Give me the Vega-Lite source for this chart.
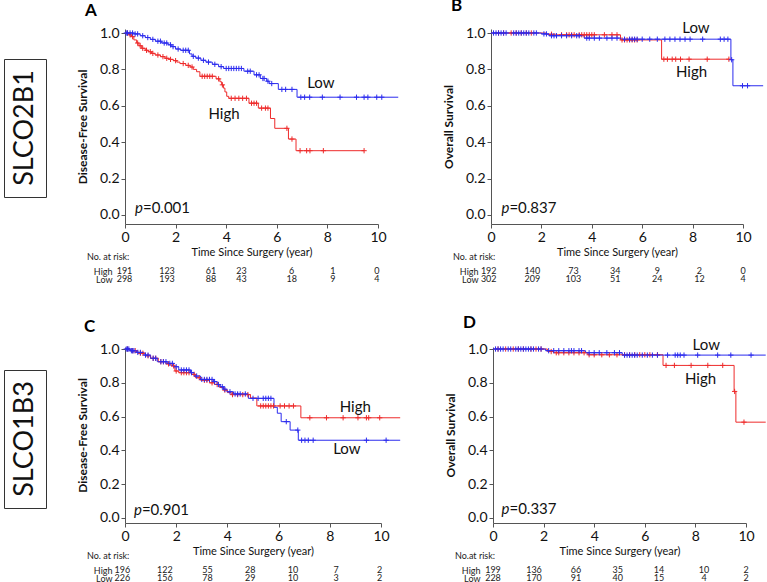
{
"$schema": "https://vega.github.io/schema/vega-lite/v6.json",
"padding": {"left": 3, "top": -3, "right": 0, "bottom": 0},
"config": {
  "view": {"stroke": null},
  "font": "Lato",
  "axis": {"domainColor": "#555", "tickColor": "#555", "tickSize": 4, "labelFontSize": 14, "labelColor": "#111", "titleFontSize": 11, "titleColor": "#111", "labelPadding": 2, "grid": false, "labelFlush": false},
  "axisX": {"titleFontWeight": "normal", "titlePadding": 2},
  "axisY": {"titleFontWeight": "bold", "titleFontSize": 12, "titlePadding": 10},
  "title": {"color": "#000"}
},
"datasets": {
  "curves": [
    {"p":"A","g":"High","t":0,"s":1},{"p":"A","g":"High","t":0.15,"s":0.99},{"p":"A","g":"High","t":0.26,"s":0.98},{"p":"A","g":"High","t":0.35,"s":0.962},{"p":"A","g":"High","t":0.46,"s":0.945},{"p":"A","g":"High","t":0.55,"s":0.93},{"p":"A","g":"High","t":0.66,"s":0.916},{"p":"A","g":"High","t":0.8,"s":0.905},{"p":"A","g":"High","t":0.92,"s":0.897},{"p":"A","g":"High","t":1.05,"s":0.888},{"p":"A","g":"High","t":1.19,"s":0.879},{"p":"A","g":"High","t":1.4,"s":0.87},{"p":"A","g":"High","t":1.58,"s":0.861},{"p":"A","g":"High","t":1.75,"s":0.855},{"p":"A","g":"High","t":1.91,"s":0.848},{"p":"A","g":"High","t":2.05,"s":0.84},{"p":"A","g":"High","t":2.17,"s":0.832},{"p":"A","g":"High","t":2.4,"s":0.822},{"p":"A","g":"High","t":2.57,"s":0.813},{"p":"A","g":"High","t":2.7,"s":0.8},{"p":"A","g":"High","t":2.83,"s":0.787},{"p":"A","g":"High","t":2.96,"s":0.762},{"p":"A","g":"High","t":3.6,"s":0.748},{"p":"A","g":"High","t":3.75,"s":0.732},{"p":"A","g":"High","t":3.82,"s":0.715},{"p":"A","g":"High","t":3.89,"s":0.697},{"p":"A","g":"High","t":3.95,"s":0.676},{"p":"A","g":"High","t":4.02,"s":0.652},{"p":"A","g":"High","t":4.1,"s":0.641},{"p":"A","g":"High","t":4.9,"s":0.614},{"p":"A","g":"High","t":5.27,"s":0.587},{"p":"A","g":"High","t":5.75,"s":0.53},{"p":"A","g":"High","t":5.92,"s":0.476},{"p":"A","g":"High","t":6.46,"s":0.417},{"p":"A","g":"High","t":6.76,"s":0.353},{"p":"A","g":"High","t":9.45,"s":0.353},
    {"p":"A","g":"Low","t":0,"s":1},{"p":"A","g":"Low","t":0.35,"s":0.995},{"p":"A","g":"Low","t":0.6,"s":0.985},{"p":"A","g":"Low","t":0.8,"s":0.975},{"p":"A","g":"Low","t":1.0,"s":0.965},{"p":"A","g":"Low","t":1.2,"s":0.955},{"p":"A","g":"Low","t":1.45,"s":0.945},{"p":"A","g":"Low","t":1.7,"s":0.935},{"p":"A","g":"Low","t":1.85,"s":0.925},{"p":"A","g":"Low","t":2.0,"s":0.912},{"p":"A","g":"Low","t":2.2,"s":0.905},{"p":"A","g":"Low","t":2.55,"s":0.885},{"p":"A","g":"Low","t":2.65,"s":0.872},{"p":"A","g":"Low","t":2.8,"s":0.862},{"p":"A","g":"Low","t":3.0,"s":0.85},{"p":"A","g":"Low","t":3.2,"s":0.84},{"p":"A","g":"Low","t":3.45,"s":0.828},{"p":"A","g":"Low","t":3.7,"s":0.815},{"p":"A","g":"Low","t":3.9,"s":0.805},{"p":"A","g":"Low","t":4.7,"s":0.79},{"p":"A","g":"Low","t":5.1,"s":0.77},{"p":"A","g":"Low","t":5.35,"s":0.75},{"p":"A","g":"Low","t":5.6,"s":0.735},{"p":"A","g":"Low","t":5.7,"s":0.722},{"p":"A","g":"Low","t":6.06,"s":0.69},{"p":"A","g":"Low","t":6.8,"s":0.647},{"p":"A","g":"Low","t":10.8,"s":0.647},
    {"p":"B","g":"High","t":0,"s":1},{"p":"B","g":"High","t":2.2,"s":0.993},{"p":"B","g":"High","t":2.6,"s":0.99},{"p":"B","g":"High","t":5.14,"s":0.962},{"p":"B","g":"High","t":6.77,"s":0.856},{"p":"B","g":"High","t":9.45,"s":0.856},
    {"p":"B","g":"Low","t":0,"s":1},{"p":"B","g":"Low","t":2.0,"s":0.995},{"p":"B","g":"Low","t":2.3,"s":0.985},{"p":"B","g":"Low","t":3.7,"s":0.972},{"p":"B","g":"Low","t":5.15,"s":0.966},{"p":"B","g":"Low","t":9.52,"s":0.853},{"p":"B","g":"Low","t":9.6,"s":0.71},{"p":"B","g":"Low","t":10.8,"s":0.71},
    {"p":"C","g":"High","t":0,"s":1},{"p":"C","g":"High","t":0.2,"s":0.99},{"p":"C","g":"High","t":0.5,"s":0.975},{"p":"C","g":"High","t":0.8,"s":0.96},{"p":"C","g":"High","t":1.0,"s":0.945},{"p":"C","g":"High","t":1.3,"s":0.925},{"p":"C","g":"High","t":1.6,"s":0.912},{"p":"C","g":"High","t":1.8,"s":0.9},{"p":"C","g":"High","t":1.95,"s":0.87},{"p":"C","g":"High","t":2.1,"s":0.86},{"p":"C","g":"High","t":2.6,"s":0.85},{"p":"C","g":"High","t":2.75,"s":0.83},{"p":"C","g":"High","t":2.95,"s":0.815},{"p":"C","g":"High","t":3.3,"s":0.8},{"p":"C","g":"High","t":3.5,"s":0.79},{"p":"C","g":"High","t":3.7,"s":0.772},{"p":"C","g":"High","t":3.85,"s":0.757},{"p":"C","g":"High","t":4.0,"s":0.742},{"p":"C","g":"High","t":4.15,"s":0.73},{"p":"C","g":"High","t":4.9,"s":0.71},{"p":"C","g":"High","t":5.15,"s":0.663},{"p":"C","g":"High","t":6.87,"s":0.593},{"p":"C","g":"High","t":10.75,"s":0.593},
    {"p":"C","g":"Low","t":0,"s":1},{"p":"C","g":"Low","t":0.2,"s":0.99},{"p":"C","g":"Low","t":0.45,"s":0.98},{"p":"C","g":"Low","t":0.74,"s":0.964},{"p":"C","g":"Low","t":1.0,"s":0.945},{"p":"C","g":"Low","t":1.26,"s":0.925},{"p":"C","g":"Low","t":1.65,"s":0.915},{"p":"C","g":"Low","t":1.9,"s":0.895},{"p":"C","g":"Low","t":2.1,"s":0.876},{"p":"C","g":"Low","t":2.56,"s":0.86},{"p":"C","g":"Low","t":2.7,"s":0.84},{"p":"C","g":"Low","t":2.95,"s":0.82},{"p":"C","g":"Low","t":3.46,"s":0.807},{"p":"C","g":"Low","t":3.6,"s":0.79},{"p":"C","g":"Low","t":3.72,"s":0.777},{"p":"C","g":"Low","t":3.85,"s":0.762},{"p":"C","g":"Low","t":3.98,"s":0.747},{"p":"C","g":"Low","t":4.24,"s":0.734},{"p":"C","g":"Low","t":4.82,"s":0.708},{"p":"C","g":"Low","t":5.82,"s":0.655},{"p":"C","g":"Low","t":5.95,"s":0.62},{"p":"C","g":"Low","t":6.1,"s":0.57},{"p":"C","g":"Low","t":6.45,"s":0.52},{"p":"C","g":"Low","t":6.77,"s":0.46},{"p":"C","g":"Low","t":10.75,"s":0.46},
    {"p":"D","g":"High","t":0,"s":1},{"p":"D","g":"High","t":2.15,"s":0.985},{"p":"D","g":"High","t":2.4,"s":0.978},{"p":"D","g":"High","t":3.75,"s":0.966},{"p":"D","g":"High","t":6.72,"s":0.903},{"p":"D","g":"High","t":9.53,"s":0.749},{"p":"D","g":"High","t":9.6,"s":0.567},{"p":"D","g":"High","t":10.78,"s":0.567},
    {"p":"D","g":"Low","t":0,"s":1},{"p":"D","g":"Low","t":2.08,"s":0.99},{"p":"D","g":"Low","t":3.66,"s":0.978},{"p":"D","g":"Low","t":5.11,"s":0.964},{"p":"D","g":"Low","t":10.78,"s":0.964}
  ],
  "censor": [
    {"p":"A","g":"High","t":0.1,"s":1},{"p":"A","g":"High","t":0.2,"s":0.99},{"p":"A","g":"High","t":0.3,"s":0.98},{"p":"A","g":"High","t":0.5,"s":0.945},{"p":"A","g":"High","t":0.6,"s":0.93},{"p":"A","g":"High","t":0.7,"s":0.916},{"p":"A","g":"High","t":0.85,"s":0.905},{"p":"A","g":"High","t":1.0,"s":0.897},{"p":"A","g":"High","t":1.1,"s":0.888},{"p":"A","g":"High","t":1.3,"s":0.879},{"p":"A","g":"High","t":1.5,"s":0.87},{"p":"A","g":"High","t":1.65,"s":0.861},{"p":"A","g":"High","t":1.8,"s":0.855},{"p":"A","g":"High","t":2.0,"s":0.848},{"p":"A","g":"High","t":2.3,"s":0.832},{"p":"A","g":"High","t":2.5,"s":0.822},{"p":"A","g":"High","t":2.65,"s":0.813},{"p":"A","g":"High","t":3.05,"s":0.762},{"p":"A","g":"High","t":3.15,"s":0.762},{"p":"A","g":"High","t":3.25,"s":0.762},{"p":"A","g":"High","t":3.35,"s":0.762},{"p":"A","g":"High","t":3.45,"s":0.762},{"p":"A","g":"High","t":3.7,"s":0.748},{"p":"A","g":"High","t":3.85,"s":0.715},{"p":"A","g":"High","t":4.2,"s":0.641},{"p":"A","g":"High","t":4.35,"s":0.641},{"p":"A","g":"High","t":4.5,"s":0.641},{"p":"A","g":"High","t":4.65,"s":0.641},{"p":"A","g":"High","t":4.8,"s":0.641},{"p":"A","g":"High","t":5.0,"s":0.614},{"p":"A","g":"High","t":5.1,"s":0.614},{"p":"A","g":"High","t":5.2,"s":0.614},{"p":"A","g":"High","t":5.4,"s":0.587},{"p":"A","g":"High","t":5.55,"s":0.587},{"p":"A","g":"High","t":5.65,"s":0.587},{"p":"A","g":"High","t":6.4,"s":0.476},{"p":"A","g":"High","t":6.6,"s":0.417},{"p":"A","g":"High","t":6.92,"s":0.353},{"p":"A","g":"High","t":7.18,"s":0.353},{"p":"A","g":"High","t":7.31,"s":0.353},{"p":"A","g":"High","t":7.84,"s":0.353},{"p":"A","g":"High","t":9.45,"s":0.353},
    {"p":"A","g":"Low","t":0.05,"s":1},{"p":"A","g":"Low","t":0.1,"s":1},{"p":"A","g":"Low","t":0.2,"s":1},{"p":"A","g":"Low","t":0.3,"s":1},{"p":"A","g":"Low","t":0.4,"s":0.995},{"p":"A","g":"Low","t":0.5,"s":0.995},{"p":"A","g":"Low","t":0.7,"s":0.985},{"p":"A","g":"Low","t":0.9,"s":0.975},{"p":"A","g":"Low","t":1.1,"s":0.965},{"p":"A","g":"Low","t":1.3,"s":0.955},{"p":"A","g":"Low","t":1.4,"s":0.955},{"p":"A","g":"Low","t":1.55,"s":0.945},{"p":"A","g":"Low","t":1.65,"s":0.945},{"p":"A","g":"Low","t":1.8,"s":0.935},{"p":"A","g":"Low","t":1.9,"s":0.925},{"p":"A","g":"Low","t":2.1,"s":0.912},{"p":"A","g":"Low","t":2.3,"s":0.905},{"p":"A","g":"Low","t":2.4,"s":0.905},{"p":"A","g":"Low","t":2.5,"s":0.905},{"p":"A","g":"Low","t":2.7,"s":0.872},{"p":"A","g":"Low","t":2.9,"s":0.862},{"p":"A","g":"Low","t":3.1,"s":0.85},{"p":"A","g":"Low","t":3.3,"s":0.84},{"p":"A","g":"Low","t":3.55,"s":0.828},{"p":"A","g":"Low","t":3.8,"s":0.815},{"p":"A","g":"Low","t":4.0,"s":0.805},{"p":"A","g":"Low","t":4.1,"s":0.805},{"p":"A","g":"Low","t":4.2,"s":0.805},{"p":"A","g":"Low","t":4.3,"s":0.805},{"p":"A","g":"Low","t":4.4,"s":0.805},{"p":"A","g":"Low","t":4.5,"s":0.805},{"p":"A","g":"Low","t":4.6,"s":0.805},{"p":"A","g":"Low","t":4.85,"s":0.79},{"p":"A","g":"Low","t":4.95,"s":0.79},{"p":"A","g":"Low","t":5.2,"s":0.77},{"p":"A","g":"Low","t":5.3,"s":0.77},{"p":"A","g":"Low","t":5.45,"s":0.75},{"p":"A","g":"Low","t":5.5,"s":0.75},{"p":"A","g":"Low","t":5.65,"s":0.735},{"p":"A","g":"Low","t":5.8,"s":0.722},{"p":"A","g":"Low","t":6.2,"s":0.69},{"p":"A","g":"Low","t":6.35,"s":0.69},{"p":"A","g":"Low","t":6.6,"s":0.69},{"p":"A","g":"Low","t":6.95,"s":0.647},{"p":"A","g":"Low","t":7.1,"s":0.647},{"p":"A","g":"Low","t":7.3,"s":0.647},{"p":"A","g":"Low","t":7.8,"s":0.647},{"p":"A","g":"Low","t":8.5,"s":0.647},{"p":"A","g":"Low","t":9.15,"s":0.647},{"p":"A","g":"Low","t":9.45,"s":0.647},{"p":"A","g":"Low","t":9.6,"s":0.647},{"p":"A","g":"Low","t":9.95,"s":0.647},{"p":"A","g":"Low","t":10.15,"s":0.647},
    {"p":"B","g":"High","t":0.3,"s":1},{"p":"B","g":"High","t":0.5,"s":1},{"p":"B","g":"High","t":0.8,"s":1},{"p":"B","g":"High","t":1.0,"s":1},{"p":"B","g":"High","t":1.2,"s":1},{"p":"B","g":"High","t":1.4,"s":1},{"p":"B","g":"High","t":1.6,"s":1},{"p":"B","g":"High","t":2.4,"s":0.993},{"p":"B","g":"High","t":2.8,"s":0.99},{"p":"B","g":"High","t":3.0,"s":0.99},{"p":"B","g":"High","t":3.1,"s":0.99},{"p":"B","g":"High","t":3.2,"s":0.99},{"p":"B","g":"High","t":3.3,"s":0.99},{"p":"B","g":"High","t":3.5,"s":0.99},{"p":"B","g":"High","t":3.6,"s":0.99},{"p":"B","g":"High","t":3.7,"s":0.99},{"p":"B","g":"High","t":3.8,"s":0.99},{"p":"B","g":"High","t":3.9,"s":0.99},{"p":"B","g":"High","t":4.0,"s":0.99},{"p":"B","g":"High","t":4.1,"s":0.99},{"p":"B","g":"High","t":4.5,"s":0.99},{"p":"B","g":"High","t":4.8,"s":0.99},{"p":"B","g":"High","t":5.0,"s":0.99},{"p":"B","g":"High","t":5.2,"s":0.962},{"p":"B","g":"High","t":5.3,"s":0.962},{"p":"B","g":"High","t":5.4,"s":0.962},{"p":"B","g":"High","t":5.5,"s":0.962},{"p":"B","g":"High","t":5.6,"s":0.962},{"p":"B","g":"High","t":5.7,"s":0.962},{"p":"B","g":"High","t":5.8,"s":0.962},{"p":"B","g":"High","t":6.86,"s":0.856},{"p":"B","g":"High","t":7.0,"s":0.856},{"p":"B","g":"High","t":7.19,"s":0.856},{"p":"B","g":"High","t":7.33,"s":0.856},{"p":"B","g":"High","t":7.52,"s":0.856},{"p":"B","g":"High","t":7.86,"s":0.856},{"p":"B","g":"High","t":8.58,"s":0.856},{"p":"B","g":"High","t":9.44,"s":0.856},
    {"p":"B","g":"Low","t":0.1,"s":1},{"p":"B","g":"Low","t":0.2,"s":1},{"p":"B","g":"Low","t":0.3,"s":1},{"p":"B","g":"Low","t":0.4,"s":1},{"p":"B","g":"Low","t":0.5,"s":1},{"p":"B","g":"Low","t":0.6,"s":1},{"p":"B","g":"Low","t":0.9,"s":1},{"p":"B","g":"Low","t":1.0,"s":1},{"p":"B","g":"Low","t":1.1,"s":1},{"p":"B","g":"Low","t":1.2,"s":1},{"p":"B","g":"Low","t":1.3,"s":1},{"p":"B","g":"Low","t":1.4,"s":1},{"p":"B","g":"Low","t":1.5,"s":1},{"p":"B","g":"Low","t":1.7,"s":1},{"p":"B","g":"Low","t":1.8,"s":1},{"p":"B","g":"Low","t":2.1,"s":0.995},{"p":"B","g":"Low","t":2.2,"s":0.995},{"p":"B","g":"Low","t":2.4,"s":0.985},{"p":"B","g":"Low","t":2.5,"s":0.985},{"p":"B","g":"Low","t":2.6,"s":0.985},{"p":"B","g":"Low","t":2.8,"s":0.985},{"p":"B","g":"Low","t":3.0,"s":0.985},{"p":"B","g":"Low","t":3.2,"s":0.985},{"p":"B","g":"Low","t":3.4,"s":0.985},{"p":"B","g":"Low","t":3.5,"s":0.985},{"p":"B","g":"Low","t":3.8,"s":0.972},{"p":"B","g":"Low","t":3.9,"s":0.972},{"p":"B","g":"Low","t":4.1,"s":0.972},{"p":"B","g":"Low","t":4.3,"s":0.972},{"p":"B","g":"Low","t":4.6,"s":0.972},{"p":"B","g":"Low","t":4.8,"s":0.972},{"p":"B","g":"Low","t":5.0,"s":0.972},{"p":"B","g":"Low","t":5.3,"s":0.966},{"p":"B","g":"Low","t":5.5,"s":0.966},{"p":"B","g":"Low","t":5.6,"s":0.966},{"p":"B","g":"Low","t":5.7,"s":0.966},{"p":"B","g":"Low","t":5.8,"s":0.966},{"p":"B","g":"Low","t":6.0,"s":0.966},{"p":"B","g":"Low","t":6.3,"s":0.966},{"p":"B","g":"Low","t":6.6,"s":0.966},{"p":"B","g":"Low","t":6.9,"s":0.966},{"p":"B","g":"Low","t":7.1,"s":0.966},{"p":"B","g":"Low","t":7.3,"s":0.966},{"p":"B","g":"Low","t":7.5,"s":0.966},{"p":"B","g":"Low","t":7.7,"s":0.966},{"p":"B","g":"Low","t":7.9,"s":0.966},{"p":"B","g":"Low","t":8.4,"s":0.966},{"p":"B","g":"Low","t":9.1,"s":0.966},{"p":"B","g":"Low","t":9.25,"s":0.966},{"p":"B","g":"Low","t":9.4,"s":0.966},{"p":"B","g":"Low","t":9.55,"s":0.853},{"p":"B","g":"Low","t":9.98,"s":0.71},{"p":"B","g":"Low","t":10.18,"s":0.71},
    {"p":"C","g":"High","t":0.1,"s":1},{"p":"C","g":"High","t":0.3,"s":0.99},{"p":"C","g":"High","t":0.4,"s":0.99},{"p":"C","g":"High","t":0.6,"s":0.975},{"p":"C","g":"High","t":0.7,"s":0.975},{"p":"C","g":"High","t":0.9,"s":0.96},{"p":"C","g":"High","t":1.1,"s":0.945},{"p":"C","g":"High","t":1.2,"s":0.945},{"p":"C","g":"High","t":1.4,"s":0.925},{"p":"C","g":"High","t":1.5,"s":0.925},{"p":"C","g":"High","t":1.7,"s":0.912},{"p":"C","g":"High","t":1.9,"s":0.9},{"p":"C","g":"High","t":2.0,"s":0.87},{"p":"C","g":"High","t":2.2,"s":0.86},{"p":"C","g":"High","t":2.3,"s":0.86},{"p":"C","g":"High","t":2.4,"s":0.86},{"p":"C","g":"High","t":2.5,"s":0.86},{"p":"C","g":"High","t":2.7,"s":0.85},{"p":"C","g":"High","t":2.9,"s":0.83},{"p":"C","g":"High","t":3.1,"s":0.815},{"p":"C","g":"High","t":3.2,"s":0.815},{"p":"C","g":"High","t":3.4,"s":0.8},{"p":"C","g":"High","t":3.6,"s":0.79},{"p":"C","g":"High","t":3.9,"s":0.757},{"p":"C","g":"High","t":4.2,"s":0.73},{"p":"C","g":"High","t":4.4,"s":0.73},{"p":"C","g":"High","t":4.6,"s":0.73},{"p":"C","g":"High","t":4.8,"s":0.73},{"p":"C","g":"High","t":5.3,"s":0.663},{"p":"C","g":"High","t":5.4,"s":0.663},{"p":"C","g":"High","t":5.5,"s":0.663},{"p":"C","g":"High","t":5.6,"s":0.663},{"p":"C","g":"High","t":5.7,"s":0.663},{"p":"C","g":"High","t":5.8,"s":0.663},{"p":"C","g":"High","t":6.06,"s":0.663},{"p":"C","g":"High","t":6.23,"s":0.663},{"p":"C","g":"High","t":6.41,"s":0.663},{"p":"C","g":"High","t":6.58,"s":0.663},{"p":"C","g":"High","t":7.22,"s":0.593},{"p":"C","g":"High","t":7.87,"s":0.593},{"p":"C","g":"High","t":8.52,"s":0.593},{"p":"C","g":"High","t":9.1,"s":0.593},{"p":"C","g":"High","t":9.43,"s":0.593},{"p":"C","g":"High","t":9.52,"s":0.593},{"p":"C","g":"High","t":9.95,"s":0.593},
    {"p":"C","g":"Low","t":0.05,"s":1},{"p":"C","g":"Low","t":0.1,"s":1},{"p":"C","g":"Low","t":0.15,"s":1},{"p":"C","g":"Low","t":0.25,"s":0.99},{"p":"C","g":"Low","t":0.3,"s":0.99},{"p":"C","g":"Low","t":0.35,"s":0.99},{"p":"C","g":"Low","t":0.5,"s":0.98},{"p":"C","g":"Low","t":0.6,"s":0.98},{"p":"C","g":"Low","t":0.8,"s":0.964},{"p":"C","g":"Low","t":0.9,"s":0.964},{"p":"C","g":"Low","t":1.1,"s":0.945},{"p":"C","g":"Low","t":1.2,"s":0.945},{"p":"C","g":"Low","t":1.4,"s":0.925},{"p":"C","g":"Low","t":1.5,"s":0.925},{"p":"C","g":"Low","t":1.6,"s":0.925},{"p":"C","g":"Low","t":1.75,"s":0.915},{"p":"C","g":"Low","t":1.85,"s":0.915},{"p":"C","g":"Low","t":2.0,"s":0.895},{"p":"C","g":"Low","t":2.2,"s":0.876},{"p":"C","g":"Low","t":2.3,"s":0.876},{"p":"C","g":"Low","t":2.4,"s":0.876},{"p":"C","g":"Low","t":2.5,"s":0.876},{"p":"C","g":"Low","t":2.6,"s":0.86},{"p":"C","g":"Low","t":2.8,"s":0.84},{"p":"C","g":"Low","t":3.0,"s":0.82},{"p":"C","g":"Low","t":3.1,"s":0.82},{"p":"C","g":"Low","t":3.2,"s":0.82},{"p":"C","g":"Low","t":3.3,"s":0.82},{"p":"C","g":"Low","t":3.4,"s":0.82},{"p":"C","g":"Low","t":3.5,"s":0.807},{"p":"C","g":"Low","t":3.65,"s":0.79},{"p":"C","g":"Low","t":3.8,"s":0.777},{"p":"C","g":"Low","t":3.9,"s":0.762},{"p":"C","g":"Low","t":4.1,"s":0.747},{"p":"C","g":"Low","t":4.3,"s":0.734},{"p":"C","g":"Low","t":4.4,"s":0.734},{"p":"C","g":"Low","t":4.5,"s":0.734},{"p":"C","g":"Low","t":4.7,"s":0.734},{"p":"C","g":"Low","t":5.0,"s":0.708},{"p":"C","g":"Low","t":5.2,"s":0.708},{"p":"C","g":"Low","t":5.4,"s":0.708},{"p":"C","g":"Low","t":5.5,"s":0.708},{"p":"C","g":"Low","t":5.6,"s":0.708},{"p":"C","g":"Low","t":5.7,"s":0.708},{"p":"C","g":"Low","t":6.3,"s":0.57},{"p":"C","g":"Low","t":6.75,"s":0.52},{"p":"C","g":"Low","t":6.9,"s":0.46},{"p":"C","g":"Low","t":7.03,"s":0.46},{"p":"C","g":"Low","t":7.16,"s":0.46},{"p":"C","g":"Low","t":7.35,"s":0.46},{"p":"C","g":"Low","t":9.43,"s":0.46},{"p":"C","g":"Low","t":10.2,"s":0.46},
    {"p":"D","g":"High","t":0.2,"s":1},{"p":"D","g":"High","t":0.5,"s":1},{"p":"D","g":"High","t":0.8,"s":1},{"p":"D","g":"High","t":1.0,"s":1},{"p":"D","g":"High","t":1.2,"s":1},{"p":"D","g":"High","t":1.5,"s":1},{"p":"D","g":"High","t":1.7,"s":1},{"p":"D","g":"High","t":1.9,"s":1},{"p":"D","g":"High","t":2.3,"s":0.985},{"p":"D","g":"High","t":2.5,"s":0.978},{"p":"D","g":"High","t":2.6,"s":0.978},{"p":"D","g":"High","t":2.8,"s":0.978},{"p":"D","g":"High","t":3.0,"s":0.978},{"p":"D","g":"High","t":3.2,"s":0.978},{"p":"D","g":"High","t":3.4,"s":0.978},{"p":"D","g":"High","t":3.6,"s":0.978},{"p":"D","g":"High","t":3.8,"s":0.966},{"p":"D","g":"High","t":4.0,"s":0.966},{"p":"D","g":"High","t":4.3,"s":0.966},{"p":"D","g":"High","t":4.6,"s":0.966},{"p":"D","g":"High","t":4.9,"s":0.966},{"p":"D","g":"High","t":5.2,"s":0.966},{"p":"D","g":"High","t":5.4,"s":0.966},{"p":"D","g":"High","t":5.6,"s":0.966},{"p":"D","g":"High","t":5.8,"s":0.966},{"p":"D","g":"High","t":6.0,"s":0.966},{"p":"D","g":"High","t":6.2,"s":0.966},{"p":"D","g":"High","t":6.5,"s":0.966},{"p":"D","g":"High","t":6.84,"s":0.903},{"p":"D","g":"High","t":7.17,"s":0.903},{"p":"D","g":"High","t":7.83,"s":0.903},{"p":"D","g":"High","t":8.49,"s":0.903},{"p":"D","g":"High","t":9.08,"s":0.903},{"p":"D","g":"High","t":9.55,"s":0.749},{"p":"D","g":"High","t":9.92,"s":0.567},
    {"p":"D","g":"Low","t":0.1,"s":1},{"p":"D","g":"Low","t":0.2,"s":1},{"p":"D","g":"Low","t":0.3,"s":1},{"p":"D","g":"Low","t":0.4,"s":1},{"p":"D","g":"Low","t":0.6,"s":1},{"p":"D","g":"Low","t":0.7,"s":1},{"p":"D","g":"Low","t":0.9,"s":1},{"p":"D","g":"Low","t":1.0,"s":1},{"p":"D","g":"Low","t":1.1,"s":1},{"p":"D","g":"Low","t":1.2,"s":1},{"p":"D","g":"Low","t":1.3,"s":1},{"p":"D","g":"Low","t":1.4,"s":1},{"p":"D","g":"Low","t":1.5,"s":1},{"p":"D","g":"Low","t":1.6,"s":1},{"p":"D","g":"Low","t":1.8,"s":1},{"p":"D","g":"Low","t":1.9,"s":1},{"p":"D","g":"Low","t":2.2,"s":0.99},{"p":"D","g":"Low","t":2.4,"s":0.99},{"p":"D","g":"Low","t":2.6,"s":0.99},{"p":"D","g":"Low","t":2.8,"s":0.99},{"p":"D","g":"Low","t":3.0,"s":0.99},{"p":"D","g":"Low","t":3.1,"s":0.99},{"p":"D","g":"Low","t":3.2,"s":0.99},{"p":"D","g":"Low","t":3.4,"s":0.99},{"p":"D","g":"Low","t":3.5,"s":0.99},{"p":"D","g":"Low","t":3.8,"s":0.978},{"p":"D","g":"Low","t":4.0,"s":0.978},{"p":"D","g":"Low","t":4.2,"s":0.978},{"p":"D","g":"Low","t":4.5,"s":0.978},{"p":"D","g":"Low","t":4.8,"s":0.978},{"p":"D","g":"Low","t":5.0,"s":0.978},{"p":"D","g":"Low","t":5.2,"s":0.964},{"p":"D","g":"Low","t":5.3,"s":0.964},{"p":"D","g":"Low","t":5.4,"s":0.964},{"p":"D","g":"Low","t":5.5,"s":0.964},{"p":"D","g":"Low","t":5.6,"s":0.964},{"p":"D","g":"Low","t":5.7,"s":0.964},{"p":"D","g":"Low","t":5.9,"s":0.964},{"p":"D","g":"Low","t":6.1,"s":0.964},{"p":"D","g":"Low","t":6.3,"s":0.964},{"p":"D","g":"Low","t":6.5,"s":0.964},{"p":"D","g":"Low","t":6.9,"s":0.964},{"p":"D","g":"Low","t":7.2,"s":0.964},{"p":"D","g":"Low","t":7.3,"s":0.964},{"p":"D","g":"Low","t":7.4,"s":0.964},{"p":"D","g":"Low","t":7.55,"s":0.964},{"p":"D","g":"Low","t":8.09,"s":0.964},{"p":"D","g":"Low","t":8.88,"s":0.964},{"p":"D","g":"Low","t":9.4,"s":0.964},{"p":"D","g":"Low","t":10.2,"s":0.964}
  ],
  "notes": [
    {"p":"A","t":7.2,"s":0.725,"label":"Low"},{"p":"A","t":3.3,"s":0.555,"label":"High"},
    {"p":"B","t":7.59,"s":1.027,"label":"Low"},{"p":"B","t":7.34,"s":0.787,"label":"High"},
    {"p":"C","t":8.39,"s":0.657,"label":"High"},{"p":"C","t":8.13,"s":0.408,"label":"Low"},
    {"p":"D","t":7.89,"s":1.024,"label":"Low"},{"p":"D","t":7.59,"s":0.822,"label":"High"}
  ],
  "pval": [
    {"p":"A","t":0.71,"s":0.011,"v":"=0.001"},
    {"p":"B","t":0.73,"s":0.009,"v":"=0.837"},
    {"p":"C","t":0.66,"s":0.018,"v":"=0.901"},
    {"p":"D","t":0.65,"s":0.024,"v":"=0.337"}
  ],
  "risk": [
    {"p":"A","g":"High","t":-0.02,"n":191},{"p":"A","g":"High","t":1.66,"n":123},{"p":"A","g":"High","t":3.4,"n":61},{"p":"A","g":"High","t":4.6,"n":23},{"p":"A","g":"High","t":6.59,"n":6},{"p":"A","g":"High","t":8.22,"n":1},{"p":"A","g":"High","t":9.95,"n":0},
    {"p":"A","g":"Low","t":-0.02,"n":298},{"p":"A","g":"Low","t":1.66,"n":193},{"p":"A","g":"Low","t":3.4,"n":88},{"p":"A","g":"Low","t":4.6,"n":43},{"p":"A","g":"Low","t":6.59,"n":18},{"p":"A","g":"Low","t":8.22,"n":9},{"p":"A","g":"Low","t":9.95,"n":4},
    {"p":"B","g":"High","t":-0.09,"n":192},{"p":"B","g":"High","t":1.64,"n":140},{"p":"B","g":"High","t":3.27,"n":73},{"p":"B","g":"High","t":4.93,"n":34},{"p":"B","g":"High","t":6.6,"n":9},{"p":"B","g":"High","t":8.27,"n":2},{"p":"B","g":"High","t":10.0,"n":0},
    {"p":"B","g":"Low","t":-0.09,"n":302},{"p":"B","g":"Low","t":1.64,"n":209},{"p":"B","g":"Low","t":3.27,"n":103},{"p":"B","g":"Low","t":4.93,"n":51},{"p":"B","g":"Low","t":6.6,"n":24},{"p":"B","g":"Low","t":8.27,"n":12},{"p":"B","g":"Low","t":10.0,"n":4},
    {"p":"C","g":"High","t":-0.1,"n":196},{"p":"C","g":"High","t":1.56,"n":122},{"p":"C","g":"High","t":3.22,"n":55},{"p":"C","g":"High","t":4.89,"n":28},{"p":"C","g":"High","t":6.56,"n":10},{"p":"C","g":"High","t":8.25,"n":7},{"p":"C","g":"High","t":9.95,"n":2},
    {"p":"C","g":"Low","t":-0.1,"n":226},{"p":"C","g":"Low","t":1.56,"n":156},{"p":"C","g":"Low","t":3.22,"n":78},{"p":"C","g":"Low","t":4.89,"n":29},{"p":"C","g":"Low","t":6.56,"n":10},{"p":"C","g":"Low","t":8.25,"n":3},{"p":"C","g":"Low","t":9.95,"n":2},
    {"p":"D","g":"High","t":0,"n":199},{"p":"D","g":"High","t":1.62,"n":136},{"p":"D","g":"High","t":3.28,"n":66},{"p":"D","g":"High","t":4.93,"n":35},{"p":"D","g":"High","t":6.56,"n":14},{"p":"D","g":"High","t":8.34,"n":10},{"p":"D","g":"High","t":10.0,"n":2},
    {"p":"D","g":"Low","t":0,"n":228},{"p":"D","g":"Low","t":1.62,"n":170},{"p":"D","g":"Low","t":3.28,"n":91},{"p":"D","g":"Low","t":4.93,"n":40},{"p":"D","g":"Low","t":6.56,"n":15},{"p":"D","g":"Low","t":8.34,"n":4},{"p":"D","g":"Low","t":10.0,"n":2}
  ]
},
"vconcat": [
  {"hconcat": [
    {"vconcat": [
      {"width": 42, "height": 29, "data": {"values": []}, "mark": "point"},
      {"width": 42, "height": 138, "view": {"stroke": "#333", "strokeWidth": 1}, "data": {"values": [{"gene": "SLCO2B1"}]}, "mark": {"type": "text", "angle": 270, "fontSize": 27, "align": "center", "baseline": "middle", "color": "#111"}, "encoding": {"text": {"field": "gene"}}}
    ], "spacing": 0},
    {"hconcat": [
      {"vconcat": [
        {"width": 253, "height": 195,
         "title": {"text": "A", "anchor": "start", "frame": "group", "dx": -40, "fontSize": 17, "fontWeight": "bold", "offset": 6},
         "encoding": {
           "x": {"field": "t", "type": "quantitative", "scale": {"domain": [0, 10], "nice": false, "zero": false}, "axis": {"values": [0, 2, 4, 6, 8, 10], "format": "d", "title": "Time Since Surgery (year)"}},
           "y": {"field": "s", "type": "quantitative", "scale": {"domain": [-0.05, 1.022], "nice": false, "zero": false}, "axis": {"values": [0, 0.2, 0.4, 0.6, 0.8, 1.0], "format": ".1f", "title": "Disease-Free Survival"}},
           "color": {"field": "g", "type": "nominal", "scale": {"domain": ["High", "Low"], "range": ["#ee2b2b", "#2b2bee"]}, "legend": null}
         },
         "layer": [
           {"data": {"name": "curves"}, "transform": [{"filter": "datum.p == 'A'"}], "mark": {"type": "line", "interpolate": "step-after", "strokeWidth": 1, "clip": false}},
           {"data": {"name": "censor"}, "transform": [{"filter": "datum.p == 'A'"}], "mark": {"type": "point", "shape": "M0,-1L0,1M-1,0L1,0", "filled": false, "size": 28, "strokeWidth": 1, "opacity": 1, "clip": false}},
           {"data": {"name": "notes"}, "transform": [{"filter": "datum.p == 'A'"}], "mark": {"type": "text", "fontSize": 15, "align": "left", "baseline": "middle"}, "encoding": {"text": {"field": "label"}, "color": {"value": "#111"}}},
           {"data": {"name": "pval"}, "transform": [{"filter": "datum.p == 'A'"}], "mark": {"type": "text", "fontSize": 15, "align": "right", "baseline": "alphabetic", "fontStyle": "italic"}, "encoding": {"text": {"value": "p"}, "color": {"value": "#111"}}},
           {"data": {"name": "pval"}, "transform": [{"filter": "datum.p == 'A'"}], "mark": {"type": "text", "fontSize": 15, "align": "left", "baseline": "alphabetic"}, "encoding": {"text": {"field": "v"}, "color": {"value": "#111"}}}
         ]},
        {"width": 253, "height": 16, "data": {"name": "risk"}, "transform": [{"filter": "datum.p == 'A'"}],
         "title": {"text": "No. at risk:", "anchor": "start", "frame": "group", "dx": -38, "fontSize": 9, "fontWeight": "normal", "offset": -2, "baseline": "alphabetic", "color": "#222"},
         "mark": {"type": "text", "fontSize": 9, "baseline": "middle", "color": "#222"},
         "encoding": {
           "x": {"field": "t", "type": "quantitative", "scale": {"domain": [0, 10], "nice": false, "zero": false}, "axis": null},
           "y": {"field": "g", "type": "nominal", "scale": {"type": "point", "domain": ["High", "Low"], "padding": 0.5}, "axis": {"title": null, "domain": false, "ticks": false, "labelPadding": 13, "labelFontSize": 9, "labelColor": "#222"}},
           "text": {"field": "n"}
         }}
      ], "spacing": -4},
      {"vconcat": [
        {"width": 252, "height": 195,
         "title": {"text": "B", "anchor": "start", "frame": "group", "dx": -40, "fontSize": 17, "fontWeight": "bold", "offset": 6},
         "encoding": {
           "x": {"field": "t", "type": "quantitative", "scale": {"domain": [0, 10], "nice": false, "zero": false}, "axis": {"values": [0, 2, 4, 6, 8, 10], "format": "d", "title": "Time Since Surgery (year)"}},
           "y": {"field": "s", "type": "quantitative", "scale": {"domain": [-0.05, 1.022], "nice": false, "zero": false}, "axis": {"values": [0, 0.2, 0.4, 0.6, 0.8, 1.0], "format": ".1f", "title": "Overall Survival"}},
           "color": {"field": "g", "type": "nominal", "scale": {"domain": ["High", "Low"], "range": ["#ee2b2b", "#2b2bee"]}, "legend": null}
         },
         "layer": [
           {"data": {"name": "curves"}, "transform": [{"filter": "datum.p == 'B'"}], "mark": {"type": "line", "interpolate": "step-after", "strokeWidth": 1, "clip": false}},
           {"data": {"name": "censor"}, "transform": [{"filter": "datum.p == 'B'"}], "mark": {"type": "point", "shape": "M0,-1L0,1M-1,0L1,0", "filled": false, "size": 28, "strokeWidth": 1, "opacity": 1, "clip": false}},
           {"data": {"name": "notes"}, "transform": [{"filter": "datum.p == 'B'"}], "mark": {"type": "text", "fontSize": 15, "align": "left", "baseline": "middle"}, "encoding": {"text": {"field": "label"}, "color": {"value": "#111"}}},
           {"data": {"name": "pval"}, "transform": [{"filter": "datum.p == 'B'"}], "mark": {"type": "text", "fontSize": 15, "align": "right", "baseline": "alphabetic", "fontStyle": "italic"}, "encoding": {"text": {"value": "p"}, "color": {"value": "#111"}}},
           {"data": {"name": "pval"}, "transform": [{"filter": "datum.p == 'B'"}], "mark": {"type": "text", "fontSize": 15, "align": "left", "baseline": "alphabetic"}, "encoding": {"text": {"field": "v"}, "color": {"value": "#111"}}}
         ]},
        {"width": 252, "height": 16, "data": {"name": "risk"}, "transform": [{"filter": "datum.p == 'B'"}],
         "title": {"text": "No. at risk:", "anchor": "start", "frame": "group", "dx": -38, "fontSize": 9, "fontWeight": "normal", "offset": -2, "baseline": "alphabetic", "color": "#222"},
         "mark": {"type": "text", "fontSize": 9, "baseline": "middle", "color": "#222"},
         "encoding": {
           "x": {"field": "t", "type": "quantitative", "scale": {"domain": [0, 10], "nice": false, "zero": false}, "axis": null},
           "y": {"field": "g", "type": "nominal", "scale": {"type": "point", "domain": ["High", "Low"], "padding": 0.5}, "axis": {"title": null, "domain": false, "ticks": false, "labelPadding": 13, "labelFontSize": 9, "labelColor": "#222"}},
           "text": {"field": "n"}
         }}
      ], "spacing": -4}
    ], "spacing": 41}
  ], "spacing": 29},
  {"hconcat": [
    {"vconcat": [
      {"width": 42, "height": 22, "data": {"values": []}, "mark": "point"},
      {"width": 42, "height": 138, "view": {"stroke": "#333", "strokeWidth": 1}, "data": {"values": [{"gene": "SLCO1B3"}]}, "mark": {"type": "text", "angle": 270, "fontSize": 27, "align": "center", "baseline": "middle", "color": "#111"}, "encoding": {"text": {"field": "gene"}}}
    ], "spacing": 0},
    {"hconcat": [
      {"vconcat": [
        {"width": 256, "height": 176,
         "title": {"text": "C", "anchor": "start", "frame": "group", "dx": -41, "fontSize": 17, "fontWeight": "bold", "offset": 6},
         "encoding": {
           "x": {"field": "t", "type": "quantitative", "scale": {"domain": [0, 10], "nice": false, "zero": false}, "axis": {"values": [0, 2, 4, 6, 8, 10], "format": "d", "title": "Time Since Surgery (year)"}},
           "y": {"field": "s", "type": "quantitative", "scale": {"domain": [-0.03, 1.012], "nice": false, "zero": false}, "axis": {"values": [0, 0.2, 0.4, 0.6, 0.8, 1.0], "format": ".1f", "title": "Disease-Free Survival"}},
           "color": {"field": "g", "type": "nominal", "scale": {"domain": ["High", "Low"], "range": ["#ee2b2b", "#2b2bee"]}, "legend": null}
         },
         "layer": [
           {"data": {"name": "curves"}, "transform": [{"filter": "datum.p == 'C'"}], "mark": {"type": "line", "interpolate": "step-after", "strokeWidth": 1, "clip": false}},
           {"data": {"name": "censor"}, "transform": [{"filter": "datum.p == 'C'"}], "mark": {"type": "point", "shape": "M0,-1L0,1M-1,0L1,0", "filled": false, "size": 28, "strokeWidth": 1, "opacity": 1, "clip": false}},
           {"data": {"name": "notes"}, "transform": [{"filter": "datum.p == 'C'"}], "mark": {"type": "text", "fontSize": 15, "align": "left", "baseline": "middle"}, "encoding": {"text": {"field": "label"}, "color": {"value": "#111"}}},
           {"data": {"name": "pval"}, "transform": [{"filter": "datum.p == 'C'"}], "mark": {"type": "text", "fontSize": 15, "align": "right", "baseline": "alphabetic", "fontStyle": "italic"}, "encoding": {"text": {"value": "p"}, "color": {"value": "#111"}}},
           {"data": {"name": "pval"}, "transform": [{"filter": "datum.p == 'C'"}], "mark": {"type": "text", "fontSize": 15, "align": "left", "baseline": "alphabetic"}, "encoding": {"text": {"field": "v"}, "color": {"value": "#111"}}}
         ]},
        {"width": 256, "height": 16, "data": {"name": "risk"}, "transform": [{"filter": "datum.p == 'C'"}],
         "title": {"text": "No. at risk:", "anchor": "start", "frame": "group", "dx": -38, "fontSize": 9, "fontWeight": "normal", "offset": -2, "baseline": "alphabetic", "color": "#222"},
         "mark": {"type": "text", "fontSize": 9, "baseline": "middle", "color": "#222"},
         "encoding": {
           "x": {"field": "t", "type": "quantitative", "scale": {"domain": [0, 10], "nice": false, "zero": false}, "axis": null},
           "y": {"field": "g", "type": "nominal", "scale": {"type": "point", "domain": ["High", "Low"], "padding": 0.5}, "axis": {"title": null, "domain": false, "ticks": false, "labelPadding": 13, "labelFontSize": 9, "labelColor": "#222"}},
           "text": {"field": "n"}
         }}
      ], "spacing": -4},
      {"vconcat": [
        {"width": 253, "height": 176,
         "title": {"text": "D", "anchor": "start", "frame": "group", "dx": -30, "fontSize": 17, "fontWeight": "bold", "offset": 6},
         "encoding": {
           "x": {"field": "t", "type": "quantitative", "scale": {"domain": [0, 10], "nice": false, "zero": false}, "axis": {"values": [0, 2, 4, 6, 8, 10], "format": "d", "title": "Time Since Surgery (year)"}},
           "y": {"field": "s", "type": "quantitative", "scale": {"domain": [-0.03, 1.012], "nice": false, "zero": false}, "axis": {"values": [0, 0.2, 0.4, 0.6, 0.8, 1.0], "format": ".1f", "title": "Overall Survival"}},
           "color": {"field": "g", "type": "nominal", "scale": {"domain": ["High", "Low"], "range": ["#ee2b2b", "#2b2bee"]}, "legend": null}
         },
         "layer": [
           {"data": {"name": "curves"}, "transform": [{"filter": "datum.p == 'D'"}], "mark": {"type": "line", "interpolate": "step-after", "strokeWidth": 1, "clip": false}},
           {"data": {"name": "censor"}, "transform": [{"filter": "datum.p == 'D'"}], "mark": {"type": "point", "shape": "M0,-1L0,1M-1,0L1,0", "filled": false, "size": 28, "strokeWidth": 1, "opacity": 1, "clip": false}},
           {"data": {"name": "notes"}, "transform": [{"filter": "datum.p == 'D'"}], "mark": {"type": "text", "fontSize": 15, "align": "left", "baseline": "middle"}, "encoding": {"text": {"field": "label"}, "color": {"value": "#111"}}},
           {"data": {"name": "pval"}, "transform": [{"filter": "datum.p == 'D'"}], "mark": {"type": "text", "fontSize": 15, "align": "right", "baseline": "alphabetic", "fontStyle": "italic"}, "encoding": {"text": {"value": "p"}, "color": {"value": "#111"}}},
           {"data": {"name": "pval"}, "transform": [{"filter": "datum.p == 'D'"}], "mark": {"type": "text", "fontSize": 15, "align": "left", "baseline": "alphabetic"}, "encoding": {"text": {"field": "v"}, "color": {"value": "#111"}}}
         ]},
        {"width": 253, "height": 16, "data": {"name": "risk"}, "transform": [{"filter": "datum.p == 'D'"}],
         "title": {"text": "No.at risk:", "anchor": "start", "frame": "group", "dx": -38, "fontSize": 9, "fontWeight": "normal", "offset": -2, "baseline": "alphabetic", "color": "#222"},
         "mark": {"type": "text", "fontSize": 9, "baseline": "middle", "color": "#222"},
         "encoding": {
           "x": {"field": "t", "type": "quantitative", "scale": {"domain": [0, 10], "nice": false, "zero": false}, "axis": null},
           "y": {"field": "g", "type": "nominal", "scale": {"type": "point", "domain": ["High", "Low"], "padding": 0.5}, "axis": {"title": null, "domain": false, "ticks": false, "labelPadding": 13, "labelFontSize": 9, "labelColor": "#222"}},
           "text": {"field": "n"}
         }}
      ], "spacing": -4}
    ], "spacing": 41}
  ], "spacing": 29}
],
"spacing": 29
}
